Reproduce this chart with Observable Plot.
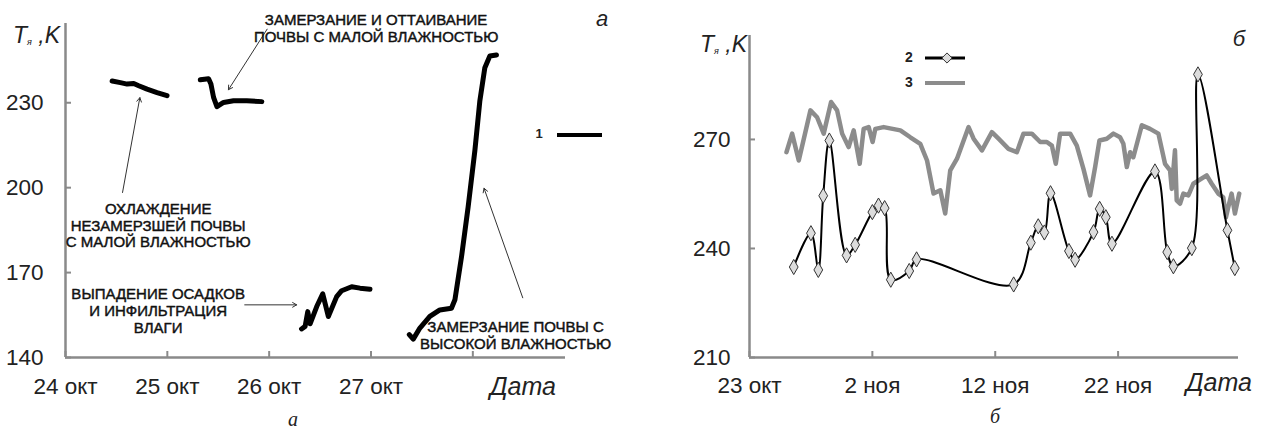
<!DOCTYPE html>
<html><head><meta charset="utf-8">
<script src="https://cdn.jsdelivr.net/npm/d3@7"></script>
<script src="https://cdn.jsdelivr.net/npm/@observablehq/plot@0.6"></script>
<style>
body{margin:0;background:#fff;font-family:Arial,"Liberation Sans",sans-serif;}
#wrap{position:relative;width:1261px;height:434px;display:flex;overflow:hidden}
.panel{position:relative}
.cap{position:absolute;font-family:"Liberation Serif","DejaVu Serif",serif;font-style:italic;font-size:20px;color:#222}
</style></head><body>
<div id="wrap"><div id="a" class="panel"></div><div id="b" class="panel"></div>
<div class="cap" style="left:288px;top:408px">а</div>
<div class="cap" style="left:990px;top:405px">б</div>
</div>
<script>
// ---------- data (days: day-of-October, November = 31 + n) ----------
const monthNames = ["янв","фев","мар","апр","май","июн","июл","авг","сен","окт","ноя","дек"];

// Panel a: series 1 (segments)
const s1Segment = [1,1,1,1,1,1,1,1, 2,2,2,2,2,2,2,2,2, 3,3,3,3,3,3,3,3,3,3,3,3, 4,4,4,4,4,4,4,4,4,4,4,4,4,4];
const s1Day = [24.458,24.539,24.605,24.670,24.719,24.801,24.899,24.997,
  25.324,25.405,25.428,25.454,25.487,25.552,25.650,25.780,25.928,
  26.318,26.353,26.379,26.402,26.467,26.526,26.581,26.663,26.712,26.810,26.892,26.990,
  27.376,27.415,27.480,27.578,27.676,27.790,27.824,27.889,27.954,28.020,28.069,28.118,28.167,28.232];
const s1Temp = [237.7,237.1,236.6,236.8,236.0,234.8,233.6,232.5,
  238.1,238.5,236.6,231.9,228.6,230.1,230.7,230.7,230.4,
  150.1,151.0,156.2,151.9,158.0,162.5,154.5,161.5,163.6,165.0,164.5,164.1,
  148.1,146.5,150.4,154.5,156.8,157.4,160.4,175.6,193.2,213.1,230.7,242.4,246.5,246.9];
const tempTicksA = [140,170,200,230];
const dayTicksA = [24,25,26,27,28];
const dayLabelsA = ["24 окт","25 окт","26 окт","27 окт",""];

// Panel a annotations
const annText = [
  "ЗАМЕРЗАНИЕ И ОТТАИВАНИЕ\nПОЧВЫ С МАЛОЙ ВЛАЖНОСТЬЮ",
  "ОХЛАЖДЕНИЕ\nНЕЗАМЕРЗШЕЙ ПОЧВЫ\nС МАЛОЙ ВЛАЖНОСТЬЮ",
  "ВЫПАДЕНИЕ ОСАДКОВ\nИ ИНФИЛЬТРАЦИЯ\nВЛАГИ",
  "ЗАМЕРЗАНИЕ ПОЧВЫ С\nВЫСОКОЙ ВЛАЖНОСТЬЮ"];
const annDay = [27.05, 24.91, 24.91, 28.42];
const annTemp = [256.4, 186.7, 156.5, 147.9];
const arrDay1 = [25.98, 24.56, 25.76, 28.49];
const arrTemp1 = [256.0, 198.3, 158.6, 161.1];
const arrDay2 = [25.60, 24.73, 26.27, 28.11];
const arrTemp2 = [234.6, 231.8, 158.6, 199.8];

// Panel б: series 2 (diamonds) and series 3 (gray)
const s2Day = [26.6,28.0,28.6,29.0,29.5,30.9,31.6,33.0,33.5,34.0,34.5,36.0,36.6,44.5,45.9,46.5,47.0,47.5,49.0,49.5,51.0,51.5,52.0,52.5,56.0,57.0,57.5,59.0,59.5,61.9,62.5];
const s2Temp = [234.9,244.2,234.1,254.5,269.7,238.1,241.0,250.0,251.8,251.1,231.4,233.8,237.0,230.1,241.6,246.1,244.4,255.2,239.3,236.9,244.5,250.9,248.6,241.3,261.2,239.0,235.1,240.1,287.9,245.0,234.6];
const s3Day = [26.01,26.47,27.01,27.96,28.50,29.04,29.64,30.13,30.54,31.07,31.48,31.97,32.29,32.70,33.02,33.24,33.92,35.28,36.09,36.90,37.45,37.98,38.53,38.93,39.34,39.89,40.83,41.24,41.92,42.73,43.27,44.08,44.76,45.30,45.98,46.66,47.20,47.61,47.93,48.28,49.10,49.64,50.18,50.72,51.13,51.48,52.08,52.62,53.16,53.43,53.71,53.98,54.24,54.93,55.60,56.28,56.82,57.23,57.37,57.63,57.77,58.04,58.31,58.72,59.12,60.21,60.62,61.15,61.56,61.78,61.97,62.24,62.51,62.86];
const s3Temp = [266.5,271.6,264.2,278.0,276.1,271.6,280.3,278.0,271.6,267.9,272.5,263.3,272.9,273.4,269.3,272.9,273.4,272.5,270.6,268.8,264.2,255.1,256.0,249.6,261.5,264.7,273.4,270.2,267.0,272.0,270.2,267.4,266.5,271.6,271.6,269.3,269.3,268.3,263.3,271.6,271.6,268.3,261.9,254.6,262.4,269.7,270.2,271.6,270.6,268.8,262.4,266.5,265.1,273.9,272.9,271.6,263.3,261.5,256.4,267.0,253.2,252.3,255.1,254.6,257.8,260.1,257.8,255.1,254.1,248.6,251.4,255.1,249.6,255.1];
const tempTicksB = [210,240,270];
const dayTicksB = [23,33,43,53];

// ---------- helpers ----------
const toDate = d => new Date(Date.UTC(2013, 9, 1) + (d - 1) * 864e5);
const fmt = d => `${d.getUTCDate()} ${monthNames[d.getUTCMonth()]}`;
const axisGray = "#8a8a8a";
const ink = "#222";
const font = "Arial, 'Liberation Sans', sans-serif";
const tickFont = 22.5;

const s1 = s1Day.map((d, i) => ({date: toDate(d), t: s1Temp[i], seg: s1Segment[i]}));
const ann = annText.map((s, i) => ({date: toDate(annDay[i]), t: annTemp[i], text: s}));
const arrows = arrDay1.map((d, i) => ({x1: toDate(d), y1: arrTemp1[i], x2: toDate(arrDay2[i]), y2: arrTemp2[i]}));
const s2 = s2Day.map((d, i) => ({date: toDate(d), t: s2Temp[i]}));
const s3 = s3Day.map((d, i) => ({date: toDate(d), t: s3Temp[i]}));

function yLabel(svg, x, y) {
  const t = svg.append("text").attr("x", x).attr("y", y).attr("font-size", 23)
    .attr("font-style", "italic").attr("fill", ink).attr("font-family", font).attr("text-anchor", "start");
  t.append("tspan").text("T");
  t.append("tspan").attr("font-size", 9).attr("dy", 2).text("я");
  t.append("tspan").attr("dy", -2).text(" ,K");
}
function plainText(svg, x, y, s, size, opts = {}) {
  svg.append("text").attr("x", x).attr("y", y).attr("font-size", size)
    .attr("font-family", font).attr("fill", ink)
    .attr("font-style", opts.italic ? "italic" : null)
    .attr("font-weight", opts.bold ? "bold" : null)
    .attr("text-anchor", opts.anchor || "start")
    .attr("dominant-baseline", "middle").text(s);
}

// ---------- panel a ----------
const domA = [toDate(24), toDate(28.91)];
const plotA = Plot.plot({
  width: 630, height: 405,
  marginLeft: 65, marginRight: 65, marginTop: 23, marginBottom: 48,
  style: {fontFamily: font, fontSize: "20px", color: ink, background: "transparent", overflow: "visible"},
  x: {type: "utc", domain: domA},
  y: {domain: [140, 258]},
  marks: [
    Plot.ruleX([domA[0]], {stroke: axisGray, strokeWidth: 2.5}),
    Plot.ruleY([140], {stroke: axisGray, strokeWidth: 2.5}),
    Plot.axisY({ticks: tempTicksA, tickSize: -6, tickPadding: 28, stroke: axisGray, strokeWidth: 2, fill: ink, label: null, fontSize: tickFont}),
    Plot.axisX({ticks: dayTicksA.map(toDate), tickFormat: (d, i) => dayLabelsA[i], tickSize: -6, tickPadding: 27, stroke: axisGray, strokeWidth: 2, fill: ink, label: null, fontSize: tickFont}),
    Plot.arrow(arrows, {x1: "x1", y1: "y1", x2: "x2", y2: "y2", stroke: "#333", strokeWidth: 1, headLength: 7}),
    Plot.line(s1, {x: "date", y: "t", z: "seg", stroke: "#000", strokeWidth: 5, strokeLinecap: "round", strokeLinejoin: "round"}),
    Plot.text(ann, {x: "date", y: "t", text: "text", fontSize: 15, lineHeight: 1.12, fill: "#111", stroke: "#111", strokeWidth: 0.45, textAnchor: "middle", lineAnchor: "middle"})
  ]
});
document.getElementById("a").appendChild(plotA);
{
  const svg = d3.select(plotA);
  yLabel(svg, 13, 43);
  plainText(svg, 523, 388, "Дата", 25, {italic: true, anchor: "middle"});
  plainText(svg, 602, 20, "а", 22, {italic: true, anchor: "middle"});
  plainText(svg, 539, 135, "1", 13, {bold: true, anchor: "middle"});
  svg.append("line").attr("x1", 557).attr("x2", 602).attr("y1", 135).attr("y2", 135).attr("stroke", "#000").attr("stroke-width", 4);
}

// ---------- panel б ----------
const domB = [toDate(23), toDate(62.8)];
const plotB = Plot.plot({
  width: 631, height: 405,
  marginLeft: 119, marginRight: 23, marginTop: 35, marginBottom: 48,
  style: {fontFamily: font, fontSize: "20px", color: ink, background: "transparent", overflow: "visible"},
  x: {type: "utc", domain: domB},
  y: {domain: [210, 298.6]},
  marks: [
    Plot.ruleX([domB[0]], {stroke: axisGray, strokeWidth: 2.5}),
    Plot.ruleY([210], {stroke: axisGray, strokeWidth: 2.5}),
    Plot.axisY({ticks: tempTicksB, tickSize: -6, tickPadding: 25, stroke: axisGray, strokeWidth: 2, fill: ink, label: null, fontSize: tickFont}),
    Plot.axisX({ticks: dayTicksB.map(toDate), tickFormat: fmt, tickSize: -6, tickPadding: 26, stroke: axisGray, strokeWidth: 2, fill: ink, label: null, fontSize: tickFont}),
    Plot.line(s3, {x: "date", y: "t", stroke: "#8c8c8c", strokeWidth: 4.5, strokeLinejoin: "round", strokeLinecap: "round"}),
    Plot.line(s2, {x: "date", y: "t", stroke: "#000", strokeWidth: 2, curve: "catmull-rom"}),
    Plot.dot(s2, {x: "date", y: "t", symbol: "diamond", r: 4.6, fill: "#dcdcdc", stroke: "#333", strokeWidth: 1})
  ]
});
document.getElementById("b").appendChild(plotB);
{
  const svg = d3.select(plotB);
  yLabel(svg, 70, 52);
  plainText(svg, 589, 384, "Дата", 25, {italic: true, anchor: "middle"});
  plainText(svg, 609, 40, "б", 22, {italic: true, anchor: "middle"});
  plainText(svg, 279, 58, "2", 14, {bold: true, anchor: "middle"});
  plainText(svg, 279, 83, "3", 14, {bold: true, anchor: "middle"});
  svg.append("line").attr("x1", 295).attr("x2", 335).attr("y1", 58).attr("y2", 58).attr("stroke", "#000").attr("stroke-width", 3);
  svg.append("path").attr("d", d3.symbol(d3.symbolDiamond2, 66)()).attr("transform", "translate(317,58)")
    .attr("fill", "#dcdcdc").attr("stroke", "#333").attr("stroke-width", 1);
  svg.append("line").attr("x1", 295).attr("x2", 335).attr("y1", 83).attr("y2", 83).attr("stroke", "#8c8c8c").attr("stroke-width", 4);
}
</script>
</body></html>
